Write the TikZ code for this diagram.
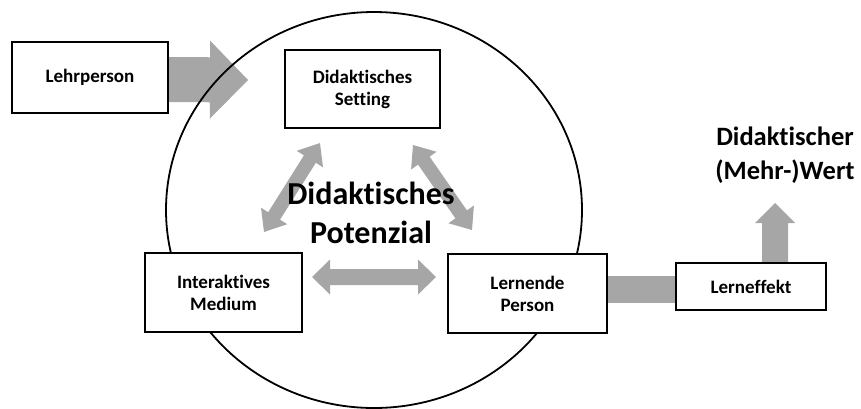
\documentclass[tikz,border=0pt]{standalone}
\usepackage{fontspec}
\setmainfont{Carlito}[Ligatures=NoCommon]
\usetikzlibrary{calc}
\pgfdeclarelayer{arrowlayer}
\pgfdeclarelayer{circlelayer}
\pgfsetlayers{arrowlayer,circlelayer,main}
\definecolor{arrowgray}{RGB}{166,166,166}
\tikzset{
  box/.style={draw=black, line width=2pt, fill=white, inner sep=0pt, align=center,
    font=\fontsize{19}{22}\selectfont\bfseries},
  bigtext/.style={align=center, inner sep=0pt, font=\fontsize{32}{39}\selectfont\bfseries},
  sidetext/.style={align=center, inner sep=0pt, font=\fontsize{26.5}{34}\selectfont\bfseries},
  blockfill/.style={fill=arrowgray, draw=none},
}
% #1 start, #2 end, #3 shaft half width, #4 head half width, #5 head length
\newcommand{\mydblarrow}[5]{%
  \path ($(#1)!#5!(#2)$) coordinate (ca) ($(#2)!#5!(#1)$) coordinate (cb);
  \fill[blockfill] (#1) -- ($(ca)!#4!90:(#2)$) -- ($(ca)!#3!90:(#2)$)
    -- ($(cb)!#3!-90:(#1)$) -- ($(cb)!#4!-90:(#1)$) -- (#2)
    -- ($(cb)!#4!90:(#1)$) -- ($(cb)!#3!90:(#1)$)
    -- ($(ca)!#3!-90:(#2)$) -- ($(ca)!#4!-90:(#2)$) -- cycle;}
\newcommand{\mysglarrow}[5]{%
  \path ($(#2)!#5!(#1)$) coordinate (cb);
  \fill[blockfill] ($(#1)!#3!90:(#2)$) -- ($(cb)!#3!-90:(#1)$) -- ($(cb)!#4!-90:(#1)$)
    -- (#2) -- ($(cb)!#4!90:(#1)$) -- ($(cb)!#3!90:(#1)$) -- ($(#1)!#3!-90:(#2)$) -- cycle;}
\begin{document}
\begin{tikzpicture}[x=1pt,y=-1pt]
\useasboundingbox (0,0) rectangle (861,408);
% boxes
\node[box, minimum width=156pt, minimum height=71pt] (lehr) at (90,77.5) {Lehrperson};
\node[box, minimum width=155pt, minimum height=78pt] (setting) at (362.5,89) {Didaktisches\\Setting};
\node[box, minimum width=157pt, minimum height=79pt] (medium) at (223.5,292.5) {Interaktives\\Medium};
\node[box, minimum width=159pt, minimum height=79pt] (lern) at (527.5,293.5) {Lernende\\Person};
\node[box, minimum width=150pt, minimum height=47pt] (eff) at (751,286.5) {Lerneffekt};
% texts
\node[bigtext] (pot) at (371,213) {Didaktisches\\Potenzial};
\node[sidetext] (wert) at (785,155) {Didaktischer\\(Mehr-)Wert};
% circle
\begin{pgfonlayer}{circlelayer}
  \draw[line width=1.8pt] (374,210) ellipse [x radius=208pt, y radius=198pt];
\end{pgfonlayer}
% arrows
\begin{pgfonlayer}{arrowlayer}
  \coordinate (lehrstart) at ($(lehr.east)+(0,2)$);
  \coordinate (lehrtip) at (248,80);
  \mysglarrow{lehrstart}{lehrtip}{22.5pt}{39pt}{38pt}
  \coordinate (d1a) at (320,143);
  \coordinate (d1b) at (264,232);
  \mydblarrow{d1a}{d1b}{7pt}{15.5pt}{19pt}
  \coordinate (d2a) at (413,145);
  \coordinate (d2b) at (472,230);
  \mydblarrow{d2a}{d2b}{7pt}{15.5pt}{19pt}
  \coordinate (h1a) at (312,277);
  \coordinate (h1b) at (436,277);
  \mydblarrow{h1a}{h1b}{8pt}{17.5pt}{18pt}
  \draw[arrowgray, line width=27pt] ($(lern.east)+(0,-4)$) -- ($(eff.west)+(0,3)$);
  \coordinate (upstart) at ($(eff.north)+(24,0)$);
  \coordinate (uptip) at (775,203);
  \mysglarrow{upstart}{uptip}{13pt}{20pt}{20pt}
\end{pgfonlayer}
\end{tikzpicture}
\end{document}
